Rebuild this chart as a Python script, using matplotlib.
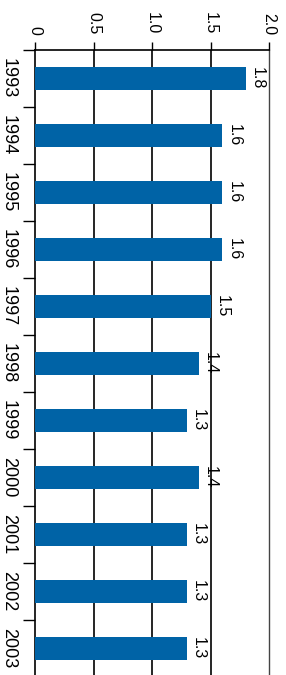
import numpy as np
import matplotlib.pyplot as plt

plt.rcParams['font.family'] = ['Liberation Sans', 'DejaVu Sans']

years = ['1993', '1994', '1995', '1996', '1997', '1998', '1999', '2000', '2001', '2002', '2003']
values = [1.8, 1.6, 1.6, 1.6, 1.5, 1.4, 1.3, 1.4, 1.3, 1.3, 1.3]
value_ticks = [0, 0.5, 1.0, 1.5, 2.0]
value_labels = ['0', '0.5', '1.0', '1.5', '2.0']

fig = plt.figure(figsize=(2.86, 6.75), dpi=100)
ax = fig.add_axes([35 / 286, -2 / 675, 234 / 286, 627 / 675])

y = np.arange(len(years))
bars = ax.barh(y, values, height=0.41, color='#0063A6', zorder=3)

# gridlines
for v in [0.5, 1.0, 1.5]:
    ax.axvline(v, color='black', lw=1.2, zorder=1)
ax.axvline(2.0, color='#444444', lw=1.0, zorder=1, clip_on=False)

for b, v in zip(bars, values):
    ax.text(v + 0.035, b.get_y() + b.get_height() / 2, f'{v:.1f}',
            rotation=-90, ha='left', va='center', fontsize=11.5)

ax.set_xlim(0, 2.0)
ax.set_ylim(len(years) - 0.5, -0.5)

ax.xaxis.tick_top()
ax.set_xticks(value_ticks)
ax.set_xticklabels(value_labels, rotation=-90, fontsize=11.5)
ax.tick_params(axis='x', which='major', length=6, width=1, pad=5, color='black')

ax.set_yticks(y)
ax.set_yticklabels(years, rotation=-90, va='center', fontsize=13)
ax.set_yticks(np.arange(-0.5, len(years), 1), minor=True)
ax.tick_params(axis='y', which='major', length=0, pad=13)
ax.tick_params(axis='y', which='minor', length=9, width=1)

for s in ['right', 'bottom']:
    ax.spines[s].set_visible(False)
ax.spines['left'].set_linewidth(1.2)
ax.spines['top'].set_linewidth(1.2)

fig.savefig('out.png', dpi=100)
